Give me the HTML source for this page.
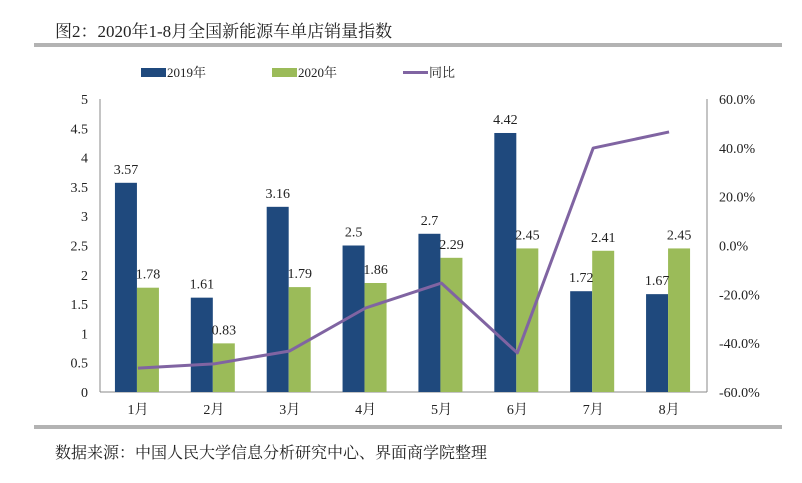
<!DOCTYPE html>
<html><head><meta charset="utf-8"><style>
body{margin:0;background:#fff;}
svg text{font-family:"Liberation Serif","Noto Serif CJK SC","Noto Sans CJK SC",serif;fill:#222;}
</style></head><body>
<svg width="802" height="478" viewBox="0 0 802 478">
<text x="55" y="37" font-size="17">图2：2020年1-8月全国新能源车单店销量指数</text>
<rect x="34" y="43" width="748" height="4" fill="#b3b3b3"/>
<g>
<rect x="141" y="68" width="25" height="9" fill="#1f497d"/>
<text x="167" y="77" font-size="13">2019年</text>
<rect x="272" y="68" width="25" height="9" fill="#9bbb59"/>
<text x="298" y="77" font-size="13">2020年</text>
<rect x="403" y="71" width="25" height="3" fill="#8064a2"/>
<text x="429" y="77" font-size="13">同比</text>
</g>
<g id="plot"></g>
<rect x="34" y="425" width="748" height="4" fill="#b3b3b3"/>
<text x="55" y="458" font-size="16">数据来源：中国人民大学信息分析研究中心、界面商学院整理</text>
</svg>
<script>
const categories=["1月","2月","3月","4月","5月","6月","7月","8月"];
const values2019=[3.57,1.61,3.16,2.5,2.7,4.42,1.72,1.67];
const values2020=[1.78,0.83,1.79,1.86,2.29,2.45,2.41,2.45];
const yoy=[-50.2,-48.5,-43.2,-25.6,-15.4,-44,39.9,46.5];
const leftTicks=[0,0.5,1,1.5,2,2.5,3,3.5,4,4.5,5];
const rightTicks=[-60,-40,-20,0,20,40,60];
const labels2019=["3.57","1.61","3.16","2.5","2.7","4.42","",""];
const labels2020=["1.78","0.83","1.79","1.86","2.29","2.45","",""];
const labelsBelow2019=["","","","","","","1.72","1.67"];
const labelsAbove2020=["","","","","","","2.41","2.45"];

const NS="http://www.w3.org/2000/svg";
const g=document.getElementById('plot');
const X0=100,X1=707,Y0=392,Y1=99;
const band=(X1-X0)/categories.length;
const yL=v=>Y0-(v/5)*(Y0-Y1);
const yR=p=>Y0-((p+60)/120)*(Y0-Y1);
const xC=i=>X0+band*(i+0.5);
function mk(t,a){const e=document.createElementNS(NS,t);for(const k in a)e.setAttribute(k,a[k]);g.appendChild(e);return e;}
// axes
let e=mk('line',{x1:X0,y1:Y1,x2:X0,y2:Y0,stroke:'#888'});


e=mk('line',{x1:X1,y1:Y1,x2:X1,y2:Y0,stroke:'#888'});


e=mk('line',{x1:X0,y1:Y0,x2:X1,y2:Y0,stroke:'#888'});


leftTicks.forEach(v=>{
  const t=mk('text',{x:X0-12,y:yL(v)+5,'font-size':14,'text-anchor':'end'});t.textContent=v;
  
  
});
rightTicks.forEach(v=>{
  const t=mk('text',{x:X1+12,y:yR(v)+5,'font-size':14});t.textContent=v.toFixed(1)+'%';
  
  
});
const bw=22;
categories.forEach((c,i)=>{
  const cx=xC(i);
  let r=mk('rect',{x:cx-bw-1,y:yL(values2019[i]),width:bw,height:Y0-yL(values2019[i]),fill:'#1f497d'});
  
  
  r=mk('rect',{x:cx-1,y:yL(values2020[i]),width:bw,height:Y0-yL(values2020[i]),fill:'#9bbb59'});
  
  
  let t=mk('text',{x:cx,y:Y0+22,'font-size':14,'text-anchor':'middle'});t.textContent=c;
  
  
  const l1=labels2019[i]||labelsBelow2019[i];
  if(l1){t=mk('text',{x:cx-bw/2-1,y:yL(values2019[i])-(labels2019[i]?9:0)+(labels2019[i]?0:-9),'font-size':14,'text-anchor':'middle'});t.textContent=l1;
  
  }
  const l2=labels2020[i]||labelsAbove2020[i];
  if(l2){t=mk('text',{x:cx+bw/2-1,y:yL(values2020[i])-9,'font-size':14,'text-anchor':'middle'});t.textContent=l2;
  
  }
});
const pl=mk('polyline',{points:yoy.map((p,i)=>xC(i)+','+yR(p)).join(' '),fill:'none',stroke:'#8064a2','stroke-width':3,'stroke-linejoin':'round'});


</script>
</body></html>
